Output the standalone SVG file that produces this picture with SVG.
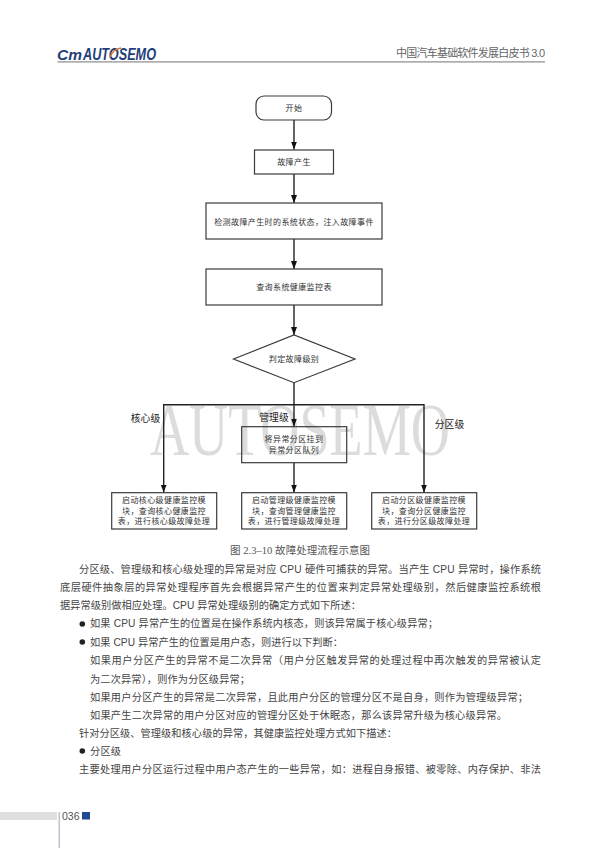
<svg xmlns="http://www.w3.org/2000/svg" width="600" height="848" viewBox="0 0 600 848">
<style>
.n{fill:#fff;stroke:#3a3a3a;stroke-width:1.2}
.o{fill:none;stroke:#3a3a3a;stroke-width:1.2}
.c{fill:none;stroke:#222;stroke-width:1.4}
.t{font-family:"Liberation Sans","Noto Sans CJK SC",sans-serif;font-size:8px;letter-spacing:.4px;fill:#333;text-anchor:middle}
.l{font-family:"Liberation Sans","Noto Sans CJK SC",sans-serif;font-size:9.800px;fill:#222;text-anchor:middle}
.b{font-family:"Liberation Sans","Noto Sans CJK SC",sans-serif;font-size:10.200px;fill:#444}
</style>
<defs><marker id="a" markerUnits="userSpaceOnUse" markerWidth="9" markerHeight="7" refX="8" refY="3" orient="auto"><path d="M0 0L8 3L0 6z" fill="#111"/></marker></defs>
<rect width="600" height="848" fill="#fff"/>
<g id="header">
<text x="57" y="59.500" font-family="Liberation Sans,sans-serif" font-size="15" font-weight="700" font-style="italic" fill="#1f3f7a" textLength="25" lengthAdjust="spacingAndGlyphs">Cm</text>
<text x="83" y="59.500" font-family="Liberation Sans,sans-serif" font-size="16" font-weight="700" font-style="italic" fill="#1f3f7a" textLength="73" lengthAdjust="spacingAndGlyphs">AUTOSEMO</text>
<path d="M110 57Q113 49 121 48" fill="none" stroke="#d9772e" stroke-width="1.3"/>
<rect x="57.500" y="61.300" width="487.500" height="1.200" fill="#8a8a8a"/>
<text x="396" y="57" font-family="Liberation Sans,Noto Sans CJK SC,sans-serif" font-size="11" fill="#666" textLength="149">中国汽车基础软件发展白皮书 3.0</text>
</g>
<g id="watermark"><text x="150" y="455" font-family="Liberation Serif,serif" font-size="75" fill="#dcdcdc" textLength="300" lengthAdjust="spacingAndGlyphs">AUTOSEMO</text></g>
<g id="connectors">
<path class="c" d="M294 120V149.500" marker-end="url(#a)"/>
<path class="c" d="M294 174V203" marker-end="url(#a)"/>
<path class="c" d="M294 239V269" marker-end="url(#a)"/>
<path class="c" d="M294 305V335" marker-end="url(#a)"/>
<path class="c" d="M294 383V426.500" marker-end="url(#a)"/>
<path class="c" d="M294 404.700H163.700V492.500" marker-end="url(#a)"/>
<path class="c" d="M294 404.700H424V492.500" marker-end="url(#a)"/>
<path class="c" d="M294 463V492.500" marker-end="url(#a)"/>
</g>
<g id="start"><rect class="n" x="256" y="96" width="75.500" height="24" rx="8"/><text class="t" x="294" y="110.600">开始</text></g>
<g id="fault"><rect class="n" x="254.500" y="150" width="79" height="24"/><text class="t" x="294" y="164.600">故障产生</text></g>
<g id="detect"><rect class="n" x="206" y="203" width="176" height="36"/><text class="t" x="294" y="224.600">检测故障产生时的系统状态&#xFF0C;注入故障事件</text></g>
<g id="query"><rect class="n" x="206" y="269" width="176" height="36"/><text class="t" x="294" y="289.900">查询系统健康监控表</text></g>
<g id="decide"><path class="n" d="M233.500 359L294 335L355 359L294 382.700z"/><text class="t" x="294" y="361.900">判定故障级别</text></g>
<g id="l1"><text class="l" x="145.500" y="421.500">核心级</text></g>
<g id="l2"><text class="l" x="274" y="420.500">管理级</text></g>
<g id="l3"><text class="l" x="449.500" y="427.500">分区级</text></g>
<g id="queue"><rect class="o" x="241.700" y="426.700" width="105" height="36"/><text class="t" x="294" y="442.200">将异常分区挂到</text><text class="t" x="294" y="452.600">异常分区队列</text></g>
<g id="core"><rect class="n" x="111.700" y="492.700" width="105" height="36.300"/><text class="t" x="164" y="503.200">启动核心级健康监控模</text><text class="t" x="164" y="513.600">块&#xFF0C;查询核心健康监控</text><text class="t" x="164" y="523.600">表&#xFF0C;进行核心级故障处理</text></g>
<g id="mgmt"><rect class="n" x="241.700" y="492.700" width="105" height="36.300"/><text class="t" x="294" y="503.200">启动管理级健康监控模</text><text class="t" x="294" y="513.600">块&#xFF0C;查询管理健康监控</text><text class="t" x="294" y="523.600">表&#xFF0C;进行管理级故障处理</text></g>
<g id="part"><rect class="n" x="371.700" y="492.700" width="105" height="36.300"/><text class="t" x="424" y="503.200">启动分区级健康监控模</text><text class="t" x="424" y="513.600">块&#xFF0C;查询分区健康监控</text><text class="t" x="424" y="523.600">表&#xFF0C;进行分区级故障处理</text></g>
<g id="body">
<text x="230" y="554" font-family="Liberation Serif,Noto Sans CJK SC,serif" font-size="10.500" fill="#555" textLength="140">图 2.3–10 故障处理流程示意图</text>
<text class="b" x="79" y="572.700" textLength="462">分区级、管理级和核心级处理的异常是对应 CPU 硬件可捕获的异常。当产生 CPU 异常时&#xFF0C;操作系统</text>
<text class="b" x="60" y="590.700" textLength="481">底层硬件抽象层的异常处理程序首先会根据异常产生的位置来判定异常处理级别&#xFF0C;然后健康监控系统根</text>
<text class="b" x="60" y="609" textLength="301">据异常级别做相应处理。CPU 异常处理级别的确定方式如下所述&#xFF1A;</text>
<circle cx="82.300" cy="624" r="2.800" fill="#222"/>
<text class="b" x="90" y="627.300" textLength="348">如果 CPU 异常产生的位置是在操作系统内核态&#xFF0C;则该异常属于核心级异常&#xFF1B;</text>
<circle cx="82.300" cy="642" r="2.800" fill="#222"/>
<text class="b" x="90" y="645.500" textLength="253">如果 CPU 异常产生的位置是用户态&#xFF0C;则进行以下判断&#xFF1A;</text>
<text class="b" x="90" y="664" textLength="451">如果用户分区产生的异常不是二次异常&#xFF08;用户分区触发异常的处理过程中再次触发的异常被认定</text>
<text class="b" x="90" y="682.500" textLength="160">为二次异常&#xFF09;&#xFF0C;则作为分区级异常&#xFF1B;</text>
<text class="b" x="90" y="700.500" textLength="438">如果用户分区产生的异常是二次异常&#xFF0C;且此用户分区的管理分区不是自身&#xFF0C;则作为管理级异常&#xFF1B;</text>
<text class="b" x="90" y="718.500" textLength="417">如果产生二次异常的用户分区对应的管理分区处于休眠态&#xFF0C;那么该异常升级为核心级异常。</text>
<text class="b" x="79" y="736.500" textLength="318">针对分区级、管理级和核心级的异常&#xFF0C;其健康监控处理方式如下描述&#xFF1A;</text>
<circle cx="82.300" cy="751" r="2.800" fill="#222"/>
<text class="b" x="90" y="754.500" textLength="31">分区级</text>
<text class="b" x="79" y="772.700" textLength="462">主要处理用户分区运行过程中用户态产生的一些异常&#xFF0C;如&#xFF1A;进程自身报错、被零除、内存保护、非法</text>
</g>
<g id="footer">
<rect x="0" y="812" width="57" height="8" fill="#e0dfdf"/>
<rect x="58.500" y="812" width="1.400" height="36" fill="#b4c0cc"/>
<text x="62" y="820" font-family="Liberation Sans,sans-serif" font-size="10.500" fill="#555">036</text>
<rect x="82" y="812" width="8" height="7.500" fill="#1f4a92"/>
</g>
</svg>
